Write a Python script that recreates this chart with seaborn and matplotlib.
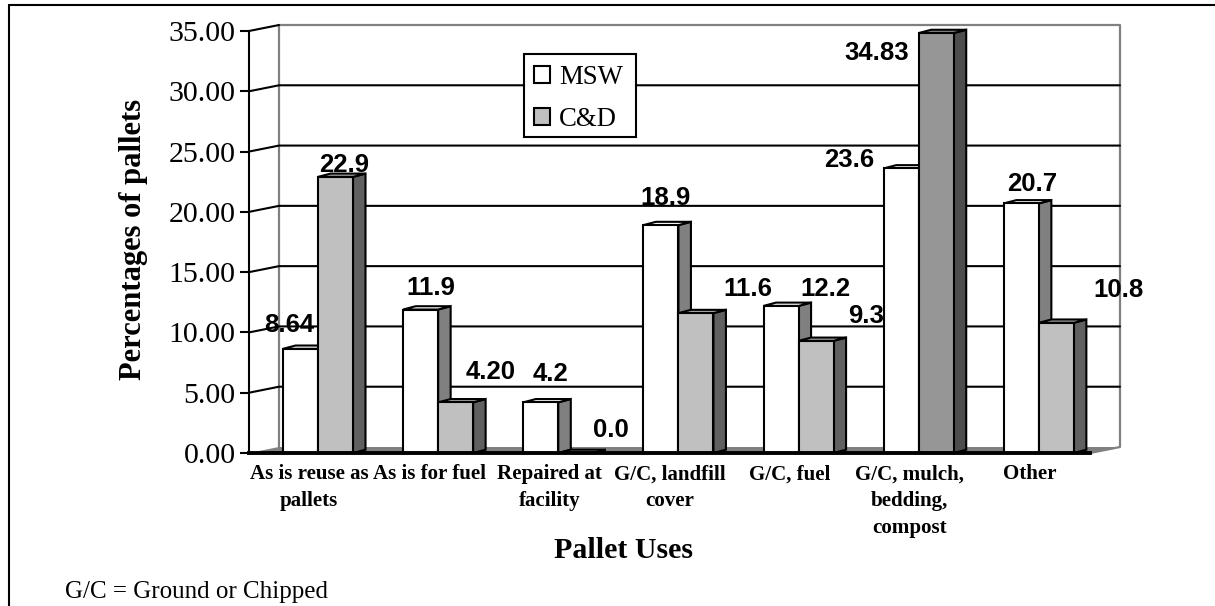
import numpy as np
import pandas as pd
import matplotlib.pyplot as plt
import seaborn as sns
from matplotlib.lines import Line2D
from matplotlib.patches import Polygon, Rectangle

uses = ['As is reuse as\npallets', 'As is for fuel', 'Repaired at\nfacility', 'G/C, landfill\ncover',
        'G/C, fuel', 'G/C, mulch,\nbedding,\ncompost', 'Other']
msw = [8.64, 11.9, 4.2, 18.9, 12.2, 23.6, 20.7]
cd = [22.9, 4.20, 0.0, 11.6, 9.3, 34.83, 10.8]
msw_labels = ['8.64', '11.9', '4.2', '18.9', '12.2', '23.6', '20.7']
cd_labels = ['22.9', '4.20', '0.0', '11.6', '9.3', '34.83', '10.8']
yticks = [0, 5, 10, 15, 20, 25, 30, 35]

W, H = 1215, 606

sns.set_theme(style='white')
plt.rcParams['font.family'] = ['Liberation Serif']
plt.rcParams['text.color'] = 'black'
plt.rcParams['axes.labelcolor'] = 'black'
plt.rcParams['xtick.color'] = 'black'
plt.rcParams['ytick.color'] = 'black'

df = pd.DataFrame({'use': uses * 2, 'pct': msw + cd, 'type': ['MSW'] * 7 + ['C&D'] * 7})

fig = plt.figure(figsize=(W / 100, H / 100), dpi=100)
# axes box in pixels: front left 249, front right 1090, 0 at y=453, 35 at y=31
ax = fig.add_axes([249 / W, 1 - 453 / H, 841 / W, 422 / H])

sns.barplot(data=df, x='use', y='pct', hue='type', palette=['white', '#c0c0c0'], saturation=1,
            edgecolor='black', linewidth=1.5, width=70 / 120.14, gap=0, ax=ax)

px_x = 7 / 841
px_y = 35 / 422
left = -69 * px_x
ax.set_xlim(left, left + 7)
ax.set_ylim(0, 35)

# the 3d box behind the bars
wall_dx, wall_dy = 30 * px_x, 6 * px_y
x0, x1 = left, left + 7
ax.add_patch(Polygon([(x0, 0), (x0 + wall_dx, wall_dy), (x1 + wall_dx, wall_dy), (x1, 0)],
                     fc='#808080', ec='none', zorder=1, clip_on=False))
ax.plot([x0 + wall_dx, x0 + wall_dx, x1 + wall_dx, x1 + wall_dx, x1],
        [wall_dy, 35 + wall_dy, 35 + wall_dy, wall_dy, 0],
        color='#808080', lw=1.6, zorder=1, clip_on=False)
for t in yticks[1:]:
    ax.plot([x0, x0 + wall_dx, x1 + wall_dx if t < 35 else x0 + wall_dx],
            [t, t + wall_dy, t + wall_dy], color='black', lw=1.5, zorder=1.5, clip_on=False)

# side and top faces
dx, dy = 12.5 * px_x, 3.3 * px_y
side_cols = ['#808080', '#606060']
top_cols = ['#ffffff', '#a8a8a8']
for n, cont in enumerate(ax.containers):
    for i, bar in enumerate(cont.patches):
        a, b, h = bar.get_x(), bar.get_x() + bar.get_width(), bar.get_height()
        side, top = side_cols[n], top_cols[n]
        if n == 1 and i == 5:
            bar.set_facecolor('#969696')
            side, top = '#4d4d4d', '#808080'
        bar.set_zorder(3.2 + n)
        ax.add_patch(Polygon([(b, 0), (b + dx, dy), (b + dx, h + dy), (b, h)], fc=side, ec='black',
                             lw=1.5, zorder=3 + n, clip_on=False, joinstyle='miter'))
        ax.add_patch(Polygon([(a, h), (a + dx, h + dy), (b + dx, h + dy), (b, h)], fc=top, ec='black',
                             lw=1.5, zorder=3 + n, clip_on=False, joinstyle='miter'))

# value labels, offsets in pixels from the top centre of each bar
msw_off = [(-11, 24), (10, 22), (10, 28), (5, 27), (44, 17), (-52, 8), (11, 19)]
cd_off = [(9, 12), (35, 30), (35, 23), (52, 24), (50, 25), (-60, -20), (62, 33)]
for cont, labs, offs in zip(ax.containers, [msw_labels, cd_labels], [msw_off, cd_off]):
    for bar, lab, off in zip(cont.patches, labs, offs):
        ax.annotate(lab, (bar.get_x() + bar.get_width() / 2, bar.get_height()),
                    xytext=(off[0] * 0.72, off[1] * 0.72), textcoords='offset points',
                    ha='center', va='center', family='Liberation Sans', fontweight='bold',
                    fontsize=18.5, color='black', zorder=8, annotation_clip=False)

sns.despine(ax=ax, top=True, right=True)
ax.patch.set_visible(False)
ax.spines['left'].set_linewidth(1.5)
ax.spines['left'].set_color('black')
ax.spines['left'].set_zorder(2)
ax.spines['bottom'].set_linewidth(2.8)
ax.spines['bottom'].set_color('black')
ax.spines['bottom'].set_zorder(6)

ax.set_yticks(yticks, [f'{t:.2f}' for t in yticks])
ax.set_xticks(np.arange(7) - 9 * px_x, uses)
ax.tick_params(axis='y', left=True, length=6.5, width=1.5, color='black', pad=3, labelsize=21.5)
ax.tick_params(axis='x', bottom=False, length=0, pad=8, labelsize=15.1)
for lab in ax.get_xticklabels():
    lab.set_fontweight('bold')
    lab.set_linespacing(1.46)

ax.set_xlabel('Pallet Uses', fontsize=21.5, fontweight='bold')
ax.xaxis.set_label_coords((624 - 249) / 841, -(550 - 453) / 422, transform=ax.transAxes)
ax.xaxis.label.set_va('center')
ax.set_ylabel('Percentages of pallets', fontsize=22, fontweight='bold')
ax.yaxis.set_label_coords((134 - 249) / 841, (453 - 239) / 422, transform=ax.transAxes)
ax.yaxis.label.set_va('center')

# legend, frame drawn apart so its padding can differ across and down
handles, labels = ax.get_legend_handles_labels()
for h in handles:
    h.set_edgecolor('black')
    h.set_linewidth(1.5)
leg = ax.legend(handles, labels, loc='upper left', bbox_to_anchor=(534 / W, 1 - 65 / H),
                bbox_transform=fig.transFigure, fontsize=19.3, frameon=False, handlelength=0.6,
                handleheight=0.6, handletextpad=0.33, labelspacing=0.62, borderaxespad=0, borderpad=0)
leg.set_zorder(7)
ax.add_patch(Rectangle((524 / W, 1 - 137 / H), 112 / W, 83 / H, transform=fig.transFigure, fc='white',
                       ec='black', lw=1.5, zorder=6.9, clip_on=False))

# outer frame, top and left only
fig.add_artist(Line2D([9 / W, 9 / W, 1], [0, 1 - 5 / H, 1 - 5 / H], color='black', lw=1.5,
                      transform=fig.transFigure, solid_joinstyle='miter'))

fig.text(65 / W, 1 - 592 / H, 'G/C = Ground or Chipped', fontsize=18, va='center', color='black')

fig.savefig('out.png', dpi=100)
